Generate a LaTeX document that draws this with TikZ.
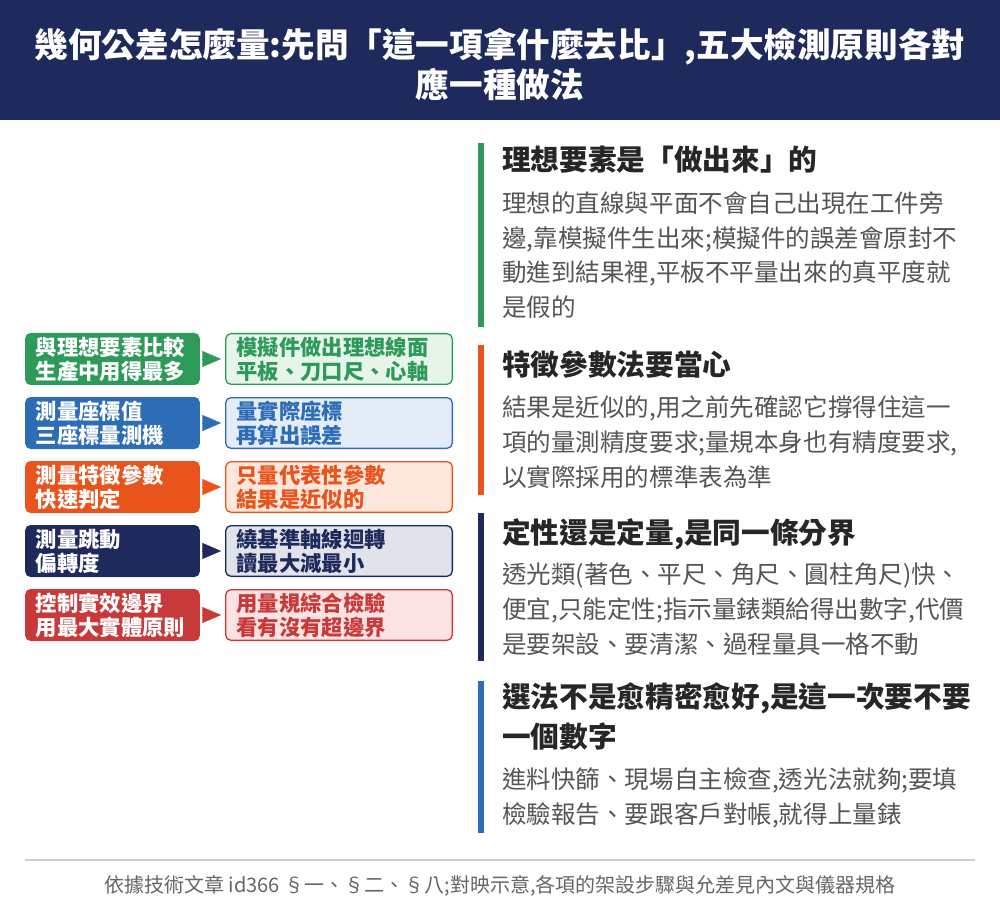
\documentclass[tikz,border=0pt]{standalone}
\usepackage{fontspec}
\setmainfont{Noto Sans CJK TC}
\usetikzlibrary{arrows.meta,positioning}
\definecolor{navy}{HTML}{1F2A5C}
\definecolor{cgreen}{HTML}{2E9A5A}
\definecolor{cblue}{HTML}{2D6DB5}
\definecolor{corange}{HTML}{E8541C}
\definecolor{cred}{HTML}{C83A3A}
\definecolor{lgreen}{HTML}{E6F4EA}
\definecolor{lblue}{HTML}{E3ECF7}
\definecolor{lorange}{HTML}{FDE7DD}
\definecolor{lnavy}{HTML}{E1E3EA}
\definecolor{lred}{HTML}{FBE3E3}
\definecolor{bodygray}{HTML}{555555}
\tikzset{
  tag/.style={rounded corners=4pt,minimum width=131pt,minimum height=39pt,text width=115pt,
    align=left,inner sep=0pt,font=\fontsize{16}{18}\selectfont\bfseries,text=white},
  res/.style={rounded corners=4pt,draw,line width=1pt,minimum width=170pt,minimum height=38pt,
    text width=154pt,align=left,inner sep=0pt,font=\fontsize{16}{18}\selectfont\bfseries},
  head/.style={anchor=north west,align=left,inner sep=0pt,font=\fontsize{21.5}{30}\selectfont\bfseries,text=black!85},
  body/.style={anchor=north west,align=left,inner sep=0pt,font=\fontsize{18.4}{26.2}\selectfont,text=bodygray},
  bar/.style={line width=4pt}
}
\begin{document}
\begin{tikzpicture}[x=0.75pt,y=-0.75pt]
\useasboundingbox (0,0) rectangle (1000,916);
\fill[white] (0,0) rectangle (1000,916);
% header
\fill[navy] (0,0) rectangle (1000,120);
\node[text=white,align=center,font=\fontsize{25.2}{30}\selectfont\bfseries] (title) at (500,64)
  {幾何公差怎麼量:先問「這一項拿什麼去比」,五大檢測原則各對\\應一種做法};
% left boxes
\foreach \i/\c/\l/\ta/\tb in {
  0/cgreen/lgreen/{與理想要素比較\\生產中用得最多}/{模擬件做出理想線面\\平板、刀口尺、心軸},
  1/cblue/lblue/{測量座標值\\三座標量測機}/{量實際座標\\再算出誤差},
  2/corange/lorange/{測量特徵參數\\快速判定}/{只量代表性參數\\結果是近似的},
  3/navy/lnavy/{測量跳動\\偏轉度}/{繞基準軸線迴轉\\讀最大減最小},
  4/cred/lred/{控制實效邊界\\用最大實體原則}/{用量規綜合檢驗\\看有沒有超邊界}} {
  \node[tag,fill=\c] (p\i) at (112.5,359+64*\i) {\ta};
  \node[res,draw=\c,fill=\l,text=\c] (q\i) at (339,359+64*\i) {\tb};
  \draw[\c,line width=0.1pt,shorten <=3.5pt,shorten >=3pt,-{Triangle[length=14pt,width=12pt]}] (p\i.east) -- (q\i.west);
}
% right column
\draw[bar,cgreen] (481,143) -- (481,327);
\node[head] (h1) at (502,146) {理想要素是「做出來」的};
\node[body] (b1) at (502,191) {理想的直線與平面不會自己出現在工件旁\\邊,靠模擬件生出來;模擬件的誤差會原封不\\動進到結果裡,平板不平量出來的真平度就\\是假的};
\draw[bar,corange] (481,345) -- (481,495);
\node[head] (h2) at (502,350) {特徵參數法要當心};
\node[body] (b2) at (502,395) {結果是近似的,用之前先確認它撐得住這一\\項的量測精度要求;量規本身也有精度要求,\\以實際採用的標準表為準};
\draw[bar,navy] (481,513) -- (481,661);
\node[head] (h3) at (502,518) {定性還是定量,是同一條分界};
\node[body] (b3) at (502,563) {透光類(著色、平尺、角尺、圓柱角尺)快、\\便宜,只能定性;指示量錶類給得出數字,代價\\是要架設、要清潔、過程量具一格不動};
\draw[bar,cblue] (481,681) -- (481,833);
\node[head] (h4) at (502,682) {選法不是愈精密愈好,是這一次要不要\\一個數字};
\node[body] (b4) at (502,767) {進料快篩、現場自主檢查,透光法就夠;要填\\檢驗報告、要跟客戶對帳,就得上量錶};
% footer
\draw[black!20,line width=1pt] (25,860) -- (975,860);
\node[text=black!60,font=\fontsize{15}{17}\selectfont] (foot) at (500,886)
  {依據技術文章 id366 §一、§二、§八;對映示意,各項的架設步驟與允差見內文與儀器規格};
\end{tikzpicture}
\end{document}
